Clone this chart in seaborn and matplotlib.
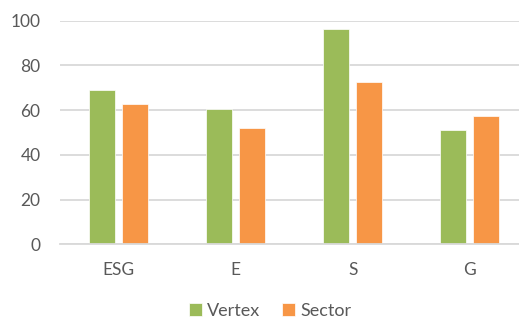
import pandas as pd
import matplotlib.pyplot as plt
import seaborn as sns

# values
categories = ['ESG', 'E', 'S', 'G']
vertex = [69.2, 60.6, 96.2, 51.1]
sector = [62.8, 52.1, 72.5, 57.5]
series = ['Vertex', 'Sector']
colors = ['#9BBB59', '#F79646']

df = pd.DataFrame({
    'category': categories * 2,
    'score': vertex + sector,
    'series': [series[0]] * len(categories) + [series[1]] * len(categories),
})

sns.set_theme(style='white')
plt.rcParams['font.family'] = ['Lato', 'DejaVu Sans']
text_color = '#595959'

fig = plt.figure(figsize=(5.19, 3.18), dpi=100)
ax = fig.add_axes([60 / 519, 1 - 244.3 / 318, 1 - 60 / 519, (244.3 - 20.7) / 318])

sns.barplot(data=df, x='category', y='score', hue='series', order=categories,
            hue_order=series, palette=colors, width=0.564, gap=0.21,
            saturation=1, ax=ax, legend=True)

for p in ax.patches:
    p.set_edgecolor('white')
    p.set_linewidth(0.5)

ax.set_ylim(0, 100)
ax.set_xlim(-0.5, 3.42)
ax.set_yticks(range(0, 101, 20))
ax.yaxis.grid(True, color='#D9D9D9', linewidth=1.3)
ax.set_axisbelow(True)
for s in ['top', 'right', 'left']:
    ax.spines[s].set_visible(False)
ax.spines['bottom'].set_color('#D9D9D9')
ax.spines['bottom'].set_linewidth(1.3)
ax.set_xlabel('')
ax.set_ylabel('')
ax.tick_params(axis='y', length=0, pad=14, labelsize=12.5, labelcolor=text_color)
ax.tick_params(axis='x', length=0, pad=13, labelsize=12.5, labelcolor=text_color)

handles, labels = ax.get_legend_handles_labels()
ax.get_legend().remove()
fig.legend(handles, labels, loc='center', bbox_to_anchor=(270 / 519, 1 - 311 / 318),
           ncol=2, frameon=False, fontsize=13, labelcolor=text_color,
           handlelength=0.7, handleheight=0.7, handletextpad=0.3, columnspacing=1.2)

fig.savefig('out.png', dpi=100)
